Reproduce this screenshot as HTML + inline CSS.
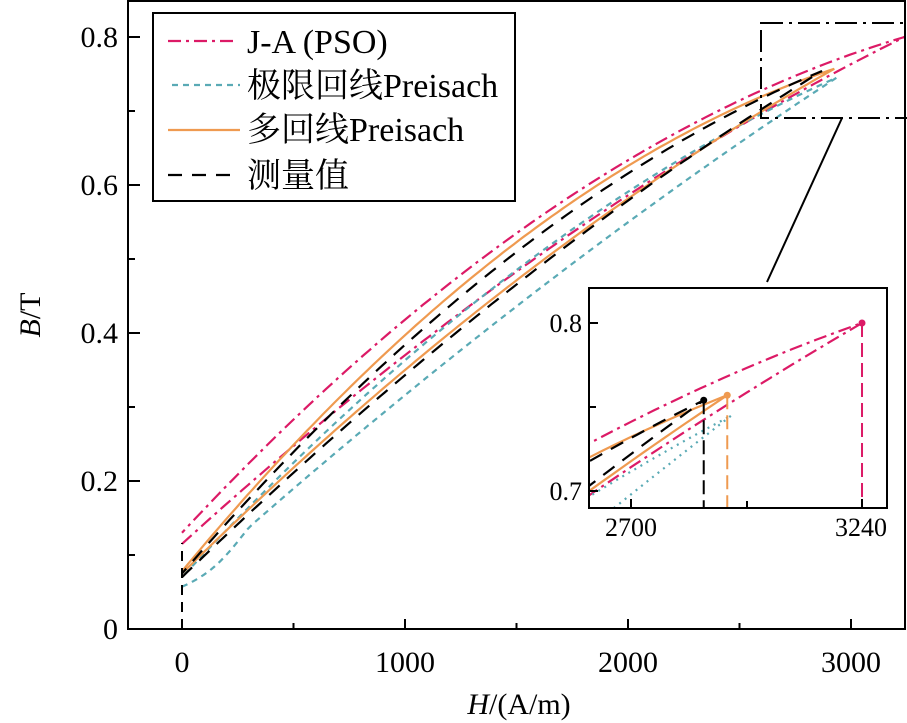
<!DOCTYPE html>
<html><head><meta charset="utf-8"><style>
html,body{margin:0;padding:0;background:#fff;overflow:hidden;width:907px;height:723px}
svg{display:block}
text{font-family:"Liberation Serif","Noto Serif CJK SC",serif;fill:#000}
</style></head><body>
<svg id="s" width="907" height="723" xmlns="http://www.w3.org/2000/svg">
<defs>
<clipPath id="cm"><rect x="128" y="1" width="778" height="628"/></clipPath>
<clipPath id="ci"><rect x="589" y="288" width="298" height="220"/></clipPath>
<clipPath id="cz"><rect x="0" y="0" width="907" height="723"/></clipPath>
</defs>
<g id="main" clip-path="url(#cm)"></g>
<g id="ins" clip-path="url(#ci)"></g>
<rect x="128" y="1" width="777" height="628" fill="none" stroke="#000" stroke-width="2"/>
<g stroke="#000" stroke-width="2">
<line x1="182" y1="629" x2="182" y2="619"/><line x1="293.5" y1="629" x2="293.5" y2="623"/>
<line x1="405" y1="629" x2="405" y2="619"/><line x1="516.5" y1="629" x2="516.5" y2="623"/>
<line x1="628" y1="629" x2="628" y2="619"/><line x1="739.5" y1="629" x2="739.5" y2="623"/>
<line x1="851" y1="629" x2="851" y2="619"/>
<line x1="128" y1="37" x2="140" y2="37"/><line x1="128" y1="111" x2="135" y2="111"/>
<line x1="128" y1="185" x2="140" y2="185"/><line x1="128" y1="259" x2="135" y2="259"/>
<line x1="128" y1="333" x2="140" y2="333"/><line x1="128" y1="407" x2="135" y2="407"/>
<line x1="128" y1="481" x2="140" y2="481"/><line x1="128" y1="555" x2="135" y2="555"/>
</g>
<g font-size="30" text-anchor="middle">
<text x="182" y="672">0</text><text x="405" y="672">1000</text><text x="628" y="672">2000</text><text x="851" y="672">3000</text>
</g>
<g font-size="30" text-anchor="end">
<text x="118" y="47">0.8</text><text x="118" y="195">0.6</text><text x="118" y="343">0.4</text><text x="118" y="491">0.2</text><text x="118" y="639">0</text>
</g>
<text x="519" y="714" font-size="30" text-anchor="middle"><tspan font-style="italic">H</tspan>/(A/m)</text>
<text transform="translate(40,315) rotate(-90)" font-size="30" text-anchor="middle"><tspan font-style="italic">B</tspan>/T</text>
<g clip-path="url(#cz)">
<rect x="761" y="23" width="160" height="95" fill="none" stroke="#000" stroke-width="2" stroke-dasharray="22,6,3,6"/>
</g>
<line x1="842" y1="118" x2="767" y2="282" stroke="#000" stroke-width="2"/>
<rect x="153" y="13" width="362" height="188" fill="#fff" stroke="#000" stroke-width="2"/>
<g stroke-width="2.2" fill="none">
<line x1="168" y1="41" x2="237" y2="41" stroke="#dc1a66" stroke-dasharray="13,5,3,5"/>
<line x1="172" y1="85" x2="240" y2="85" stroke="#5aaab5" stroke-dasharray="6,5"/>
<line x1="168" y1="130" x2="240" y2="130" stroke="#ef9a50"/>
<line x1="168" y1="175" x2="240" y2="175" stroke="#000" stroke-dasharray="14,10"/>
</g>
<g font-size="34">
<text x="247" y="53">J-A (PSO)</text>
<text x="247" y="97">极限回线Preisach</text>
<text x="247" y="141">多回线Preisach</text>
<text x="247" y="187">测量值</text>
</g>
<rect x="589" y="288" width="298" height="220" fill="none" stroke="#000" stroke-width="2"/>
<g stroke="#000" stroke-width="2">
<line x1="631" y1="508" x2="631" y2="499"/><line x1="747" y1="508" x2="747" y2="501"/><line x1="862" y1="508" x2="862" y2="499"/>
<line x1="589" y1="323" x2="598" y2="323"/><line x1="589" y1="407" x2="596" y2="407"/><line x1="589" y1="491" x2="598" y2="491"/>
</g>
<g font-size="26" text-anchor="middle"><text x="631" y="536">2700</text><text x="861" y="536">3240</text></g>
<g font-size="26" text-anchor="end"><text x="582" y="332">0.8</text><text x="582" y="500">0.7</text></g>
</svg>
<script>
var S=[
 {c:"#dc1a66",d:"13,5,3,5",H:3240,B:0.80,l:[0.115,0.37],u:[0.13,0.418]},
 {c:"#5aaab5",d:"6,5",H:2935,B:0.745,l:[0.057,0.316],u:[0.07,0.363]},
 {c:"#ef9a50",d:"",H:2925,B:0.757,l:[0.075,0.35],u:[0.078,0.397]},
 {c:"#000",d:"14,10",H:2870,B:0.754,l:[0.07,0.343],u:[0.075,0.384]}
];
function quad(b0,b1,Hm,Bm){var a1=b1-b0,a2=Bm-b0;var q=(a2-a1*Hm/1000)/(Hm*Hm-1000*Hm);var p=(a1-q*1e6)/1000;return function(h){return b0+p*h+q*h*h;};}
var NS="http://www.w3.org/2000/svg";
function add(g,tag,at){var e=document.createElementNS(NS,tag);for(var k in at)e.setAttribute(k,at[k]);g.appendChild(e);return e;}
function draw(gid,mx,my,sw,ins){
 var g=document.getElementById(gid);
 S.forEach(function(s){
  var fl=quad(s.l[0],s.l[1],s.H,s.B),fu=quad(s.u[0],s.u[1],s.H,s.B);var pts=[];
  for(var i=0;i<=120;i++){var h=s.H*i/120;var b=fl(h);if(s.c=="#5aaab5"&&h<300)b-=0.012*Math.sin(Math.PI*h/300);pts.push(mx(h).toFixed(1)+","+my(b).toFixed(1));}
  for(var i=120;i>=0;i--){var h=s.H*i/120;pts.push(mx(h).toFixed(1)+","+my(fu(h)).toFixed(1));}
  var at={points:pts.join(" "),fill:"none",stroke:s.c,"stroke-width":sw};
  if(s.d)at["stroke-dasharray"]=ins&&s.c=="#5aaab5"?"2,5":s.d;
  add(g,"polyline",at);
  if(ins&&s.c!="#5aaab5"){
   add(g,"line",{x1:mx(s.H),y1:my(s.B),x2:mx(s.H),y2:520,stroke:s.c,"stroke-width":2,"stroke-dasharray":"14,6"});
   add(g,"circle",{cx:mx(s.H),cy:my(s.B),r:3.5,fill:s.c});
  }
 });
 if(!ins){add(g,"line",{x1:182,y1:629,x2:182,y2:543,stroke:"#000","stroke-width":2,"stroke-dasharray":"10,7"});}
}
draw("main",function(h){return 182+h*0.223;},function(b){return 629-b*740;},2.2,false);
draw("ins",function(h){return 631+(h-2700)*0.4278;},function(b){return 491-(b-0.7)*1680;},2.2,true);
</script>
</body></html>
